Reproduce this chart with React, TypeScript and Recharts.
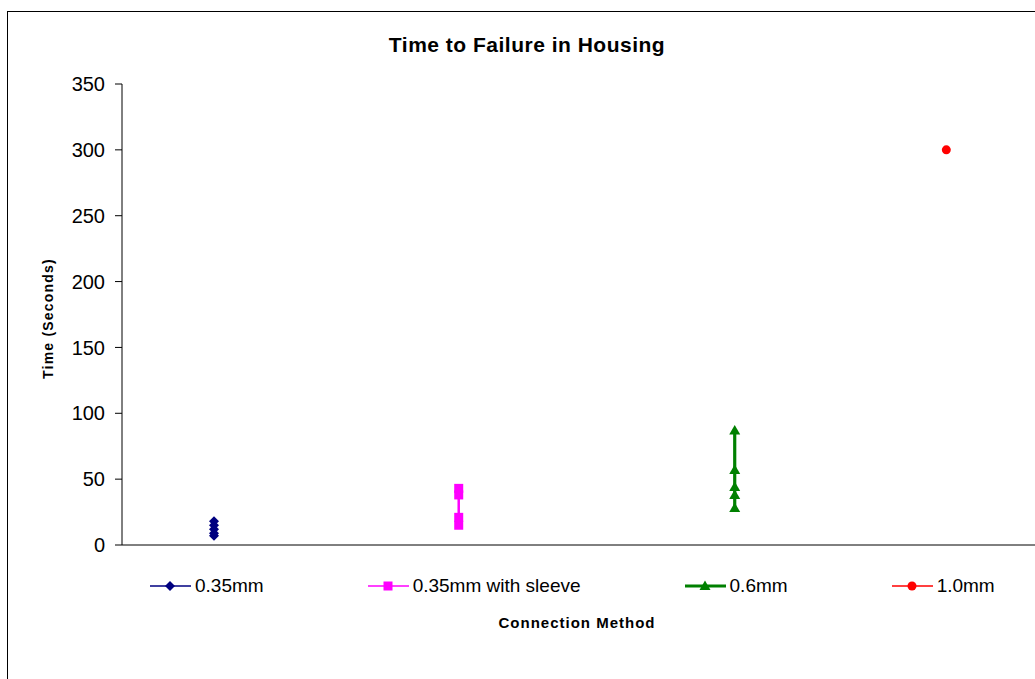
import React from "react"
import {
  ScatterChart,
  Scatter,
  XAxis,
  YAxis,
  Label,
} from "recharts"

// categories and their horizontal position on the (hidden) x scale
const seriesNames = ["0.35mm", "0.35mm with sleeve", "0.6mm", "1.0mm"]
const seriesX = [1.0, 3.66, 6.66, 8.96]

// time to failure readings (seconds)
const times035 = [18, 15, 12, 9, 7]
const times035Sleeve = [43, 38, 21, 15]
const times06 = [87, 57, 44, 38, 28]
const times10 = [300]

const yTicks = [0, 50, 100, 150, 200, 250, 300, 350]

const FONT = "'Liberation Sans', Arial, Helvetica, sans-serif"

const toPoints = (x: number, ys: number[]) => ys.map((y) => ({ x, y }))

type ShapeProps = { cx?: number; cy?: number; fill?: string }

const Diamond = ({ cx = 0, cy = 0, fill }: ShapeProps) => (
  <polygon
    points={`${cx},${cy - 5} ${cx + 5},${cy} ${cx},${cy + 5} ${cx - 5},${cy}`}
    fill={fill}
  />
)
const Square = ({ cx = 0, cy = 0, fill }: ShapeProps) => (
  <rect x={cx - 4.5} y={cy - 4.5} width={9} height={9} fill={fill} />
)
const Triangle = ({ cx = 0, cy = 0, fill }: ShapeProps) => (
  <polygon
    points={`${cx},${cy - 5.5} ${cx + 5.5},${cy + 4} ${cx - 5.5},${cy + 4}`}
    fill={fill}
  />
)
const Dot = ({ cx = 0, cy = 0, fill }: ShapeProps) => (
  <circle cx={cx} cy={cy} r={4.5} fill={fill} />
)

const series = [
  { name: seriesNames[0], data: toPoints(seriesX[0], times035), color: "#000080", width: 1.5, shape: Diamond },
  { name: seriesNames[1], data: toPoints(seriesX[1], times035Sleeve), color: "#FF00FF", width: 2.5, shape: Square },
  { name: seriesNames[2], data: toPoints(seriesX[2], times06), color: "#008000", width: 3.2, shape: Triangle },
  { name: seriesNames[3], data: toPoints(seriesX[3], times10), color: "#FF0000", width: 1.5, shape: Dot },
]

function LegendRow() {
  return (
    <div
      style={{
        position: "absolute",
        left: 150,
        top: 576,
        display: "flex",
        gap: 104,
        fontFamily: FONT,
        fontSize: 19,
        lineHeight: "20px",
        color: "#000",
        whiteSpace: "nowrap",
      }}
    >
      {series.map((s) => {
        const Shape = s.shape
        return (
          <div key={s.name} style={{ display: "flex", alignItems: "center" }}>
            <svg width={41} height={20} style={{ display: "block" }}>
              <line x1={0} y1={10} x2={41} y2={10} stroke={s.color} strokeWidth={s.width > 3 ? 3 : 1.5} />
              <Shape cx={20} cy={10} fill={s.color} />
            </svg>
            <span style={{ marginLeft: 4 }}>{s.name}</span>
          </div>
        )
      })}
    </div>
  )
}

export default function App() {
  return (
    <div
      style={{
        position: "fixed",
        left: 0,
        top: 0,
        width: 1035,
        height: 679,
        overflow: "hidden",
        background: "#fff",
      }}
    >
      <div
        style={{
          position: "absolute",
          left: 7,
          top: 11,
          width: 1100,
          height: 720,
          border: "1px solid #000",
          boxSizing: "border-box",
        }}
      />
      <div
        style={{
          position: "absolute",
          left: 0,
          top: 34,
          width: 1054,
          textAlign: "center",
          fontFamily: FONT,
          fontWeight: "bold",
          fontSize: 21,
          lineHeight: "21px",
          letterSpacing: 0.5,
          color: "#000",
        }}
      >
        Time to Failure in Housing
      </div>
      <div style={{ position: "absolute", left: 0, top: 0 }}>
        <ScatterChart
          width={1060}
          height={679}
          margin={{ top: 84, right: 18, bottom: 0, left: 0 }}
        >
          <XAxis
            type="number"
            dataKey="x"
            domain={[0, 10]}
            ticks={[0]}
            tick={false}
            tickSize={6}
            height={134}
            stroke="#000"
            allowDataOverflow
          >
            <Label
              content={({ viewBox }: any) => (
                <text
                  x={viewBox.x + viewBox.width / 2 - 5}
                  y={628}
                  textAnchor="middle"
                  fontFamily={FONT}
                  fontWeight="bold"
                  fontSize={15}
                  letterSpacing={1}
                  fill="#000"
                >
                  Connection Method
                </text>
              )}
            />
          </XAxis>
          <YAxis
            type="number"
            dataKey="y"
            domain={[0, 350]}
            ticks={yTicks}
            width={122}
            tickSize={7}
            tickMargin={10}
            stroke="#000"
            tick={{ fill: "#000", fontSize: 20, fontFamily: FONT }}
          >
            <Label
              content={({ viewBox }: any) => {
                const cy = viewBox.y + viewBox.height / 2 + 4
                return (
                  <text
                    x={53}
                    y={cy}
                    transform={`rotate(-90 53 ${cy})`}
                    textAnchor="middle"
                    fontFamily={FONT}
                    fontWeight="bold"
                    fontSize={14}
                    letterSpacing={1.2}
                    fill="#000"
                  >
                    Time (Seconds)
                  </text>
                )
              }}
            />
          </YAxis>
          {series.map((s) => (
            <Scatter
              key={s.name}
              name={s.name}
              data={s.data}
              fill={s.color}
              line={{ stroke: s.color, strokeWidth: s.width }}
              lineType="joint"
              shape={s.shape as any}
              isAnimationActive={false}
            />
          ))}
        </ScatterChart>
      </div>
      <LegendRow />
    </div>
  )
}
